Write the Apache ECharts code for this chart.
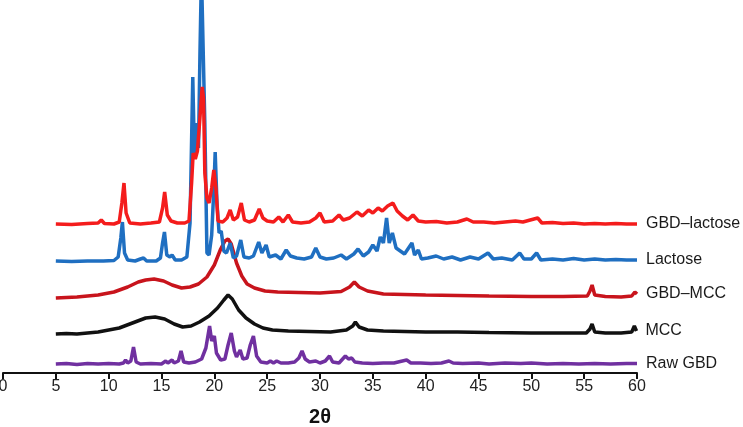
<!DOCTYPE html>
<html>
<head>
<meta charset="utf-8">
<script src="https://cdn.jsdelivr.net/npm/echarts@6/dist/echarts.min.js"></script>
<style>
html,body{margin:0;padding:0;background:#fff;}
#chart{width:743px;height:427px;}
</style>
</head>
<body>
<div id="chart"></div>
<script>
// X-ray diffraction patterns, [2θ, intensity (a.u., stacked as displayed)]
var seriesNames = ['Raw GBD', 'MCC', 'GBD\u2013MCC', 'Lactose', 'GBD\u2013lactose'];
var xTicks = [0, 5, 10, 15, 20, 25, 30, 35, 40, 45, 50, 55, 60];

var rawGBD = [[5,9],[6,9.5],[7,8.5],[8,9.5],[9,9],[10,9.5],[11,9],[11.4,10],[11.6,13],[11.8,10],[12.1,12],[12.35,26],[12.6,11],[13,9],[14,9.5],[15,9],[15.4,12],[15.6,10],[16.0,13],[16.2,10],[16.6,12],[16.85,22],[17.1,11],[17.6,10],[18.2,11],[18.8,14],[19.2,25],[19.55,47],[19.75,32],[20.0,37],[20.2,20],[20.6,13],[21.0,14],[21.3,28],[21.6,40],[21.9,22],[22.1,16],[22.45,23],[22.7,14],[23.1,15],[23.4,28],[23.7,37],[24.0,17],[24.4,11],[25.0,10],[25.3,12],[25.6,10],[25.9,12],[26.3,10],[27,10],[27.6,11],[28.0,15],[28.3,22],[28.6,14],[29,11],[29.6,12],[30,10],[30.5,12],[30.9,17],[31.2,11],[31.8,10],[32.4,17],[32.7,14],[33.0,15],[33.3,11],[34,10],[35,9.5],[36,10],[37,10],[37.8,12],[38.2,13],[38.6,10],[39.5,10],[40.5,9.5],[41.5,10],[42.2,12],[42.6,10],[43.5,9.5],[45,10],[46,9],[47.5,10],[49,9.5],[50,10],[51.5,9],[53,9.5],[54.5,9],[56,9.5],[57.5,9],[59,9.5],[60,9.5]];

var mcc = [[5,39],[6,39.5],[7,39],[8,40],[9,41],[10,43],[11,45],[11.5,47],[12.5,51],[13.5,55],[14.4,56],[15.3,54],[16.2,49],[17,46],[17.8,47],[18.6,51],[19.5,57],[20.3,65],[20.9,73],[21.3,78],[21.7,74],[22.3,63],[23,55],[23.8,49],[24.6,45],[25.5,43],[27,42],[29,41.5],[31,41],[32.5,43],[33.1,47],[33.35,51],[33.7,46],[34.5,43],[36,42],[38,41.5],[40,41],[43,41],[46,40.5],[50,40],[53,40],[55.2,40],[55.55,44],[55.75,49],[56.0,41],[57,40],[58.5,40],[59.5,41],[59.75,47],[59.95,42]];

var gbdMcc = [[5,75],[6,75.5],[7,76],[8,77],[9,78],[10.5,81],[11.8,86],[12.8,91],[13.5,93],[14.3,94],[15.2,92],[16,88],[16.9,85],[17.7,86],[18.5,89],[19.3,96],[20.0,108],[20.6,124],[21.0,132],[21.3,134],[21.6,129],[22.1,110],[22.6,97],[23.1,89],[23.8,85],[24.8,82],[26,81],[28,80.5],[30,80],[32,81.5],[32.8,86],[33.25,91],[33.7,86],[34.5,82],[36,79],[38,78.5],[40,78],[43,77.5],[46,77],[50,76.5],[53,76.5],[55.3,77],[55.55,82],[55.75,88],[56.0,78],[57,76.5],[58.5,76],[59.5,77],[59.8,81],[60,79]];

var lactose = [[5,112],[6.5,111.5],[8,112],[9.5,112],[10.5,112.5],[10.9,116],[11.15,135],[11.3,151],[11.5,120],[11.8,113],[12.5,112],[13.0,114],[13.3,115],[13.6,112],[14.5,112],[14.9,115],[15.1,130],[15.28,141],[15.5,118],[15.8,116],[16.0,118],[16.3,113],[16.9,113],[17.4,116],[17.7,150],[17.96,296],[18.12,215],[18.33,250],[18.5,225],[18.64,320],[18.78,400],[18.95,400],[19.1,250],[19.3,120],[19.5,118],[19.75,138],[19.95,183],[20.08,221],[20.25,170],[20.45,140],[20.65,142],[20.9,122],[21.15,120],[21.5,130],[21.8,115],[22.1,117],[22.5,133],[22.8,116],[23.3,115],[23.7,117],[24.2,131],[24.5,120],[24.9,128],[25.2,116],[25.8,118],[26.3,114],[26.8,123],[27.2,117],[27.8,115],[28.5,114],[29.2,116],[29.6,125],[30.0,116],[30.6,114],[31.3,115],[32.0,118],[32.5,114],[33.2,119],[33.6,124],[34.1,117],[34.6,121],[35.0,128],[35.4,122],[35.7,136],[36.0,130],[36.3,155],[36.55,130],[36.85,140],[37.2,125],[37.6,122],[38.0,119],[38.7,130],[38.95,118],[39.3,123],[39.6,114],[40.2,115],[41,117],[41.7,114],[42.5,116],[43.3,113],[44.2,116],[45,114],[45.9,120],[46.4,114],[47.2,115],[48.2,113],[48.9,120],[49.3,114],[50.0,114],[50.5,120],[50.9,113],[52,114],[53,113],[54,114.5],[55,113],[56,114],[57,113],[58,113.5],[59,113],[60,113]];

var gbdLactose = [[5,149],[6.5,148.5],[8,149.5],[9.0,150],[9.3,153],[9.6,149.5],[10.5,149],[11.0,151],[11.25,170],[11.45,190],[11.65,160],[12.0,150],[13,149],[14,150],[14.8,151],[15.1,165],[15.3,181],[15.55,158],[15.9,152],[16.5,150],[17.2,150],[17.6,152],[17.85,190],[18.0,220],[18.2,214],[18.4,222],[18.6,250],[18.85,286],[18.98,275],[19.1,200],[19.3,175],[19.5,170],[19.75,185],[19.95,203],[20.15,185],[20.35,152],[20.8,151],[21.2,155],[21.5,163],[21.8,153],[22.2,156],[22.55,170],[22.85,153],[23.3,151],[23.8,153],[24.25,164],[24.6,155],[25.0,152],[25.6,151],[26.1,156],[26.5,151],[27.0,158],[27.4,151],[28.2,150],[29.0,151],[29.6,155],[30.0,160],[30.4,151],[31.2,152],[31.8,158],[32.2,153],[32.8,155],[33.5,161],[34.0,157],[34.6,163],[35.0,160],[35.5,165],[35.9,162],[36.4,167],[36.9,170],[37.3,162],[37.8,157],[38.3,153],[38.8,158],[39.3,152],[40.0,151],[41,151.5],[42,150],[43,151],[43.9,154],[44.5,151],[45.5,151],[46.5,150],[47.5,151],[48.5,152],[49.2,151],[50.6,155],[51.0,150],[52,150.5],[53,149.5],[54,150],[55,149],[56,149.5],[57,149],[58,149.5],[59,149],[60,149]];

var seriesData = [rawGBD, mcc, gbdMcc, lactose, gbdLactose];
var seriesColors = ['#7030a0', '#111111', '#c8141c', '#1f6fc1', '#f41c1c'];

var chart = echarts.init(document.getElementById('chart'), null, {renderer: 'canvas'});
var font = 'Liberation Sans, Arial, sans-serif';
chart.setOption({
  animation: false,
  backgroundColor: '#ffffff',
  grid: {left: 3, right: 106, top: 0, bottom: 54, containLabel: false, outerBoundsMode: 'none'},
  xAxis: {
    type: 'value', min: 0, max: 60, interval: 5,
    name: '2\u03b8', nameLocation: 'middle', nameGap: 34,
    nameTextStyle: {fontFamily: font, fontWeight: 'bold', fontSize: 20, color: '#111'},
    axisLine: {show: true, onZero: false, lineStyle: {color: '#111', width: 2}},
    axisTick: {show: true, inside: false, length: 6, lineStyle: {color: '#111', width: 2}},
    axisLabel: {fontFamily: font, fontSize: 16, color: '#222', margin: 6,
      formatter: function (v) { return xTicks.indexOf(v) >= 0 ? String(v) : ''; }},
    splitLine: {show: false}
  },
  yAxis: {type: 'value', min: 0, max: 373, show: false, splitLine: {show: false}},
  series: seriesNames.map(function (n, i) {
    return {
      name: n, type: 'line', data: seriesData[i], showSymbol: false, symbol: 'none',
      clip: true, z: 2 + i,
      lineStyle: {color: seriesColors[i], width: 3.5},
      itemStyle: {color: seriesColors[i]},
      endLabel: {show: true, formatter: '{a}', distance: 9, fontFamily: font, fontSize: 16, color: '#1a1a1a'}
    };
  })
});
</script>
</body>
</html>
